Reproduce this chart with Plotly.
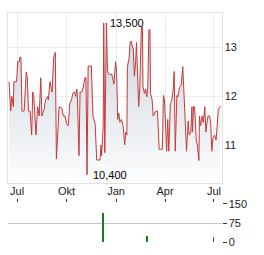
import plotly.graph_objects as go

dates = [
    "2023-06-16", "2023-06-19", "2023-06-21", "2023-06-24", "2023-06-25", "2023-06-30",
    "2023-07-02", "2023-07-05", "2023-07-06", "2023-07-08", "2023-07-10", "2023-07-14",
    "2023-07-18", "2023-07-20", "2023-07-22", "2023-07-25", "2023-07-28", "2023-07-30",
    "2023-08-01", "2023-08-05", "2023-08-08", "2023-08-11", "2023-08-14", "2023-08-16",
    "2023-08-20", "2023-08-23", "2023-08-27", "2023-08-28", "2023-08-31",
    "2023-09-04", "2023-09-07", "2023-09-10", "2023-09-12", "2023-09-15", "2023-09-17",
    "2023-09-22", "2023-09-25", "2023-09-28",
    "2023-10-01", "2023-10-04", "2023-10-07", "2023-10-10", "2023-10-13", "2023-10-16",
    "2023-10-18", "2023-10-20", "2023-10-21", "2023-10-24", "2023-10-26", "2023-10-29",
    "2023-11-01", "2023-11-04", "2023-11-06", "2023-11-08", "2023-11-10", "2023-11-12",
    "2023-11-16", "2023-11-19", "2023-11-23", "2023-11-26", "2023-11-28",
    "2023-12-02", "2023-12-04", "2023-12-05", "2023-12-08", "2023-12-09", "2023-12-11",
    "2023-12-14", "2023-12-16", "2023-12-19", "2023-12-24", "2023-12-27", "2023-12-28",
    "2023-12-31",
    "2024-01-02", "2024-01-04", "2024-01-06", "2024-01-08", "2024-01-11", "2024-01-14",
    "2024-01-17", "2024-01-19", "2024-01-21", "2024-01-22", "2024-01-25", "2024-01-27",
    "2024-01-29", "2024-01-31",
    "2024-02-02", "2024-02-04", "2024-02-06", "2024-02-08", "2024-02-11", "2024-02-12",
    "2024-02-14", "2024-02-17", "2024-02-19", "2024-02-20", "2024-02-23", "2024-02-25",
    "2024-02-27", "2024-02-29",
    "2024-03-02", "2024-03-04", "2024-03-05", "2024-03-08", "2024-03-10", "2024-03-13",
    "2024-03-15", "2024-03-18", "2024-03-21", "2024-03-24", "2024-03-27", "2024-03-29",
    "2024-03-31",
    "2024-04-04", "2024-04-06", "2024-04-08", "2024-04-11", "2024-04-13", "2024-04-16",
    "2024-04-18", "2024-04-20", "2024-04-23", "2024-04-25", "2024-04-28",
    "2024-05-01", "2024-05-04", "2024-05-06", "2024-05-09", "2024-05-11", "2024-05-14",
    "2024-05-16", "2024-05-19", "2024-05-21", "2024-05-22", "2024-05-24", "2024-05-26",
    "2024-05-29", "2024-05-31",
    "2024-06-03", "2024-06-04", "2024-06-06", "2024-06-09", "2024-06-11", "2024-06-14",
    "2024-06-16", "2024-06-18", "2024-06-20", "2024-06-23", "2024-06-25", "2024-06-27",
    "2024-06-29",
    "2024-07-02", "2024-07-05", "2024-07-09", "2024-07-12", "2024-07-13",
]

close = [
    12.30, 11.70, 12.00, 11.79, 12.30, 12.30,
    12.71, 12.71, 12.80, 12.80, 11.70, 11.70,
    12.50, 12.38, 11.70, 11.70, 11.21, 12.09,
    11.99, 11.21, 11.79, 11.60, 12.38, 11.60,
    11.73, 11.93, 12.00, 11.93, 12.30,
    12.09, 12.80, 12.90, 10.72, 11.53, 11.79,
    11.76, 11.60, 11.60,
    11.44, 11.40, 11.86, 11.93, 12.07, 12.09,
    12.00, 12.15, 12.00, 10.79, 12.09, 12.09,
    12.19, 12.38, 12.38, 10.40, 12.62, 12.62,
    12.62, 11.60, 11.44, 10.70, 10.70,
    10.70, 11.00, 10.79, 11.40, 13.50, 10.85,
    13.50, 12.51, 12.45, 12.45, 12.30, 12.25,
    12.71,
    12.51, 11.53, 11.66, 11.47, 11.53, 11.40,
    11.01, 11.27, 11.21, 12.61, 12.77, 13.10,
    13.13, 13.03,
    12.97, 12.41, 12.64, 13.10, 12.02, 11.79,
    12.19, 13.42, 13.42, 12.19, 12.06, 12.15,
    11.99, 12.19,
    13.36, 13.36, 12.06, 11.93, 11.60, 11.66,
    11.70, 11.70, 10.92, 10.92, 10.92, 12.02,
    11.93,
    10.88, 11.53, 10.88, 11.86, 11.89, 12.12,
    12.51, 10.88, 12.02, 11.99, 12.19,
    12.22, 12.61, 12.12, 11.08, 10.88, 11.50,
    11.21, 11.27, 11.79, 11.27, 11.79, 11.79,
    11.11, 11.01,
    10.69, 11.60, 11.40, 11.60, 11.47, 11.79,
    11.27, 11.47, 11.60, 11.60, 11.44, 10.88,
    11.14,
    11.21, 11.11, 11.73, 11.79, 11.80,
]

vol_dates = ["2023-12-08", "2024-02-28", "2024-06-30"]
volume = [111, 23, 19]

month_ticks = ["2023-07-01", "2023-10-01", "2024-01-01", "2024-04-01", "2024-07-01"]
month_labels = ["Jul", "Okt", "Jan", "Apr", "Jul"]
price_ticks = [11, 12, 13]
volume_ticks = [0, 75, 150]

FONT = "Liberation Sans, Arial, sans-serif"
x_range = ["2023-06-14", "2024-07-15"]
x_dom = [8 / 264, 221.5 / 264]

fig = go.Figure()
fig.add_trace(go.Scatter(
    x=dates, y=close, mode="lines",
    line=dict(color="rgb(196,58,58)", width=1),
    fill="tozeroy",
    fillgradient=dict(type="vertical",
                      colorscale=[[0, "rgb(255,255,255)"], [1, "rgb(210,219,227)"]],
                      start=10.24, stop=13.0),
    xaxis="x", yaxis="y", hoverinfo="skip",
))
fig.add_trace(go.Bar(
    x=vol_dates, y=volume, marker=dict(color="#1f7a1f", line=dict(width=0)),
    width=1.6 * 86400000, xaxis="x2", yaxis="y2",
))

hi_val = max(close)
hi_idx = len(close) - 1 - close[::-1].index(hi_val)
lo_val = min(close)
lo_idx = close.index(lo_val)


def de(v):
    return f"{v:.3f}".replace(".", ",")


fig.add_annotation(x=dates[hi_idx], y=hi_val, xref="x", yref="y", text=de(hi_val),
                   showarrow=False, xanchor="left", yanchor="middle", xshift=2,
                   font=dict(family=FONT, size=11, color="#000"))
fig.add_annotation(x=dates[lo_idx], y=lo_val, xref="x", yref="y", text=de(lo_val),
                   showarrow=False, xanchor="left", yanchor="middle", xshift=4,
                   font=dict(family=FONT, size=11, color="#000"))

fig.update_layout(
    width=264, height=255, margin=dict(l=0, r=0, t=0, b=0),
    paper_bgcolor="white", plot_bgcolor="white", showlegend=False,
    font=dict(family=FONT, size=11, color="#222"),
    xaxis=dict(domain=x_dom, range=x_range, type="date", anchor="y",
               tickvals=month_ticks, showticklabels=False, ticks="",
               showgrid=True, gridcolor="#ebebeb", gridwidth=1,
               showline=True, mirror=True, linecolor="#e2e2e2", zeroline=False),
    yaxis=dict(domain=[1 - 184.5 / 255, 1 - 7 / 255], range=[10.24, 13.71],
               side="right", anchor="x", tickvals=price_ticks, ticks="",
               showgrid=True, gridcolor="#ebebeb", showline=True, mirror=True,
               linecolor="#e2e2e2", zeroline=False,
               tickfont=dict(family=FONT, size=11, color="#222")),
    xaxis2=dict(domain=x_dom, range=x_range, type="date", anchor="y2", side="top",
                tickvals=month_ticks, ticktext=month_labels, ticks="outside",
                ticklen=3, tickcolor="#333", showgrid=False, showline=False,
                zeroline=False, tickfont=dict(family=FONT, size=11, color="#222")),
    yaxis2=dict(domain=[1 - 247.7 / 255, 1 - 206.3 / 255], range=[-1.5, 151.5],
                side="right", anchor="x2", tickvals=volume_ticks, ticks="outside",
                ticklen=4, tickcolor="#333", showgrid=True, gridcolor="#c8c8c8",
                showline=False, zeroline=False,
                tickfont=dict(family=FONT, size=11, color="#222")),
    bargap=0,
)

fig.write_html("out.html")
